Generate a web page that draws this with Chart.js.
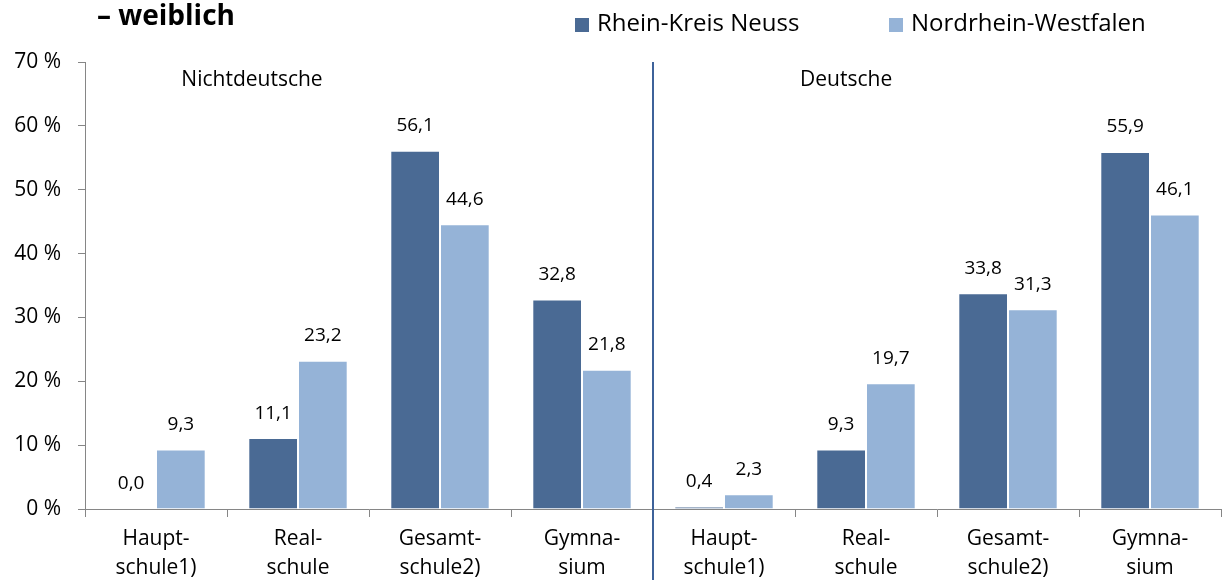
<!DOCTYPE html>
<html>
<head>
<meta charset="utf-8">
<script src="https://cdn.jsdelivr.net/npm/chart.js@4"></script>
<style>
  html, body { margin: 0; padding: 0; background: #fff; }
  #wrap { width: 1223px; height: 584px; position: relative; }
</style>
</head>
<body>
<div id="wrap"><canvas id="grafico"></canvas></div>
<script>
// Daten
const kategorien = [
    ['Haupt-', 'schule1)'], ['Real-', 'schule'], ['Gesamt-', 'schule2)'], ['Gymna-', 'sium'],
    ['Haupt-', 'schule1)'], ['Real-', 'schule'], ['Gesamt-', 'schule2)'], ['Gymna-', 'sium']
];
const rheinKreisNeuss = [0.0, 11.1, 56.1, 32.8, 0.4, 9.3, 33.8, 55.9];
const nordrheinWestfalen = [9.3, 23.2, 44.6, 21.8, 2.3, 19.7, 31.3, 46.1];
const gruppen = ['Nichtdeutsche', 'Deutsche'];
const serienNamen = ['Rhein-Kreis Neuss', 'Nordrhein-Westfalen'];
const titel = '\u2013 weiblich';

const dunkelBlau = '#4a6a94';
const hellBlau = '#95b3d7';
const schrift = '"Open Sans", sans-serif';

function fmt(v) {
    return v.toFixed(1).replace('.', ',');
}

// eigene Beschriftungen: Titel, Legende, Gruppen, Werte, Trennlinie
const beschriftung = {
    id: 'beschriftung',
    afterDatasetsDraw(chart) {
        const ctx = chart.ctx;
        const area = chart.chartArea;
        const x = chart.scales.x;

        // Trennlinie zwischen den Gruppen
        const mitte = (x.getPixelForValue(3) + x.getPixelForValue(4)) / 2;
        ctx.save();
        ctx.strokeStyle = '#3e629a';
        ctx.lineWidth = 2;
        ctx.beginPath();
        ctx.moveTo(mitte, area.top);
        ctx.lineTo(mitte, 580);
        ctx.stroke();

        // Werte ueber den Balken
        ctx.fillStyle = '#000';
        ctx.font = '19px ' + schrift;
        ctx.textAlign = 'center';
        ctx.textBaseline = 'middle';
        chart.data.datasets.forEach((ds, i) => {
            chart.getDatasetMeta(i).data.forEach((bar, j) => {
                ctx.fillText(fmt(ds.data[j]), bar.x, bar.y - 25);
            });
        });

        // Gruppennamen
        ctx.font = '21px ' + schrift;
        ctx.fillText(gruppen[0], area.left + area.width * 0.147, 80);
        ctx.fillText(gruppen[1], area.left + area.width * 0.670, 80);

        // Titel
        ctx.font = 'bold 28px ' + schrift;
        ctx.textAlign = 'left';
        ctx.fillText(titel, 97, 17);

        // Legende
        const farben = [dunkelBlau, hellBlau];
        const lx = [575, 889];
        ctx.font = '24px ' + schrift;
        serienNamen.forEach((name, i) => {
            ctx.fillStyle = farben[i];
            ctx.fillRect(lx[i], 18, 14, 14);
            ctx.fillStyle = '#000';
            ctx.fillText(name, lx[i] + 22, 24);
        });
        ctx.restore();
    }
};

const ctxGrafico = document.getElementById('grafico');

var meinDiagramm = new Chart(ctxGrafico, {
    type: 'bar',
    data: {
        labels: kategorien,
        datasets: [
            {
                label: serienNamen[0],
                data: rheinKreisNeuss,
                backgroundColor: dunkelBlau,
                borderColor: '#ffffff',
                borderWidth: 1
            },
            {
                label: serienNamen[1],
                data: nordrheinWestfalen,
                backgroundColor: hellBlau,
                borderColor: '#ffffff',
                borderWidth: 1
            }
        ]
    },
    options: {
        responsive: true,
        maintainAspectRatio: false,
        animation: false,
        layout: {
            padding: { top: 62, right: 2, left: 0, bottom: 0 }
        },
        datasets: {
            bar: {
                categoryPercentage: 0.7,
                barPercentage: 1.0
            }
        },
        scales: {
            x: {
                grid: {
                    display: true,
                    offset: true,
                    drawOnChartArea: false,
                    tickLength: 8,
                    color: '#868686'
                },
                border: { color: '#868686', width: 1 },
                ticks: {
                    color: '#000',
                    padding: 8,
                    maxRotation: 0,
                    autoSkip: false,
                    font: { family: schrift, size: 21, lineHeight: 1.38 }
                },
                afterFit: function (scale) {
                    scale.height = 75;
                }
            },
            y: {
                min: 0,
                max: 70,
                grid: {
                    display: true,
                    drawOnChartArea: false,
                    tickLength: 7,
                    color: '#868686'
                },
                border: { color: '#868686', width: 1 },
                ticks: {
                    stepSize: 10,
                    color: '#000',
                    padding: 17,
                    font: { family: schrift, size: 21 },
                    callback: function (v) {
                        return v + ' %';
                    }
                },
                afterFit: function (scale) {
                    scale.width = 85;
                }
            }
        },
        plugins: {
            legend: { display: false },
            title: { display: false },
            tooltip: { enabled: false }
        }
    },
    plugins: [beschriftung]
});
</script>
</body>
</html>
